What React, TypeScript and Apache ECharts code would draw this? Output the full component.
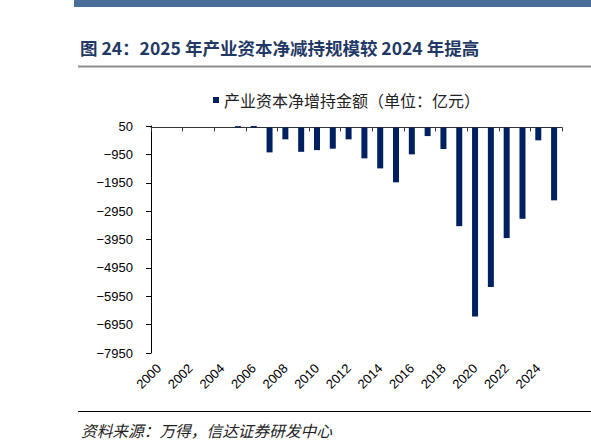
import React, { useEffect, useRef } from "react";
import * as echarts from "echarts";

const years = [
  "2000", "2001", "2002", "2003", "2004", "2005", "2006", "2007", "2008", "2009",
  "2010", "2011", "2012", "2013", "2014", "2015", "2016", "2017", "2018", "2019",
  "2020", "2021", "2022", "2023", "2024", "2025",
];
const netHolding = [
  0, 0, 0, 0, 0, 45, 50, -880, -420, -860,
  -800, -750, -420, -1090, -1445, -1935, -950, -305, -760, -3480,
  -6665, -5620, -3900, -3220, -455, -2570,
];
const seriesName = "产业资本净增持金额（单位：亿元）";
const titleText = "图 24：2025 年产业资本净减持规模较 2024 年提高";
const sourceText = "资料来源：万得，信达证券研发中心";
const yMin = -7950;
const yMax = 50;
const yStep = 1000;

const CJK = '"Noto Sans CJK SC", "Noto Sans", sans-serif';
const LATIN = '"Liberation Sans", Arial, sans-serif';

export default function App() {
  const ref = useRef<HTMLDivElement>(null);
  useEffect(() => {
    if (!ref.current) return;
    const chart = echarts.init(ref.current, null, { renderer: "svg" });
    chart.setOption({
      animation: false,
      backgroundColor: "#ffffff",
      legend: {
        data: [seriesName],
        left: 213,
        top: 92,
        padding: 0,
        icon: "rect",
        itemWidth: 6,
        itemHeight: 6,
        textStyle: { fontFamily: CJK, fontSize: 16, color: "#222222" },
      },
      grid: { left: 151, top: 126, width: 411, height: 227, containLabel: false },
      xAxis: [
        {
          type: "category",
          data: years,
          boundaryGap: true,
          position: "bottom",
          axisLine: { show: false, onZero: false },
          axisTick: { show: false },
          axisLabel: {
            interval: 1,
            rotate: 45,
            margin: 13,
            fontFamily: LATIN,
            fontSize: 13,
            color: "#000000",
          },
          splitLine: { show: false },
        },
        {
          type: "category",
          data: years,
          boundaryGap: true,
          position: "bottom",
          axisLine: { show: true, onZero: true, lineStyle: { color: "#333333", width: 1 } },
          axisTick: { show: true, interval: 1, length: 4, inside: false, lineStyle: { color: "#333333" } },
          axisLabel: { show: false },
          splitLine: { show: false },
        },
      ],
      yAxis: {
        type: "value",
        min: yMin,
        max: yMax,
        interval: yStep,
        axisLine: { show: true, lineStyle: { color: "#000000", width: 1 } },
        axisTick: { show: true, length: 5, lineStyle: { color: "#000000" } },
        splitLine: { show: false },
        axisLabel: {
          margin: 18,
          fontFamily: LATIN,
          fontSize: 13,
          color: "#000000",
          formatter: (v: number) => String(v).replace("-", "\u2212"),
        },
      },
      series: [
        {
          name: seriesName,
          type: "bar",
          xAxisIndex: 0,
          data: netHolding,
          barWidth: 6,
          itemStyle: { color: "#002060" },
        },
      ],
      graphic: [
        { type: "rect", shape: { x: 74, y: 0, width: 517, height: 7 }, style: { fill: "#4A6E9A" } },
        {
          type: "text",
          x: 80,
          y: 47,
          style: {
            text: titleText,
            fill: "#1F3864",
            font: `bold 17.5px ${CJK}`,
            verticalAlign: "middle",
          },
        },
        { type: "line", shape: { x1: 78, y1: 66.5, x2: 591, y2: 66.5 }, style: { stroke: "#8C8C8C", lineWidth: 2 } },
        { type: "line", shape: { x1: 78, y1: 411.5, x2: 591, y2: 411.5 }, style: { stroke: "#000000", lineWidth: 1 } },
        {
          type: "text",
          x: 81,
          y: 430,
          style: {
            text: sourceText,
            fill: "#222222",
            font: `italic 15.7px ${CJK}`,
            verticalAlign: "middle",
          },
        },
      ],
    });
    return () => chart.dispose();
  }, []);
  return (
    <div
      ref={ref}
      style={{ position: "fixed", left: 0, top: 0, width: 591, height: 447, background: "#fff" }}
    />
  );
}
